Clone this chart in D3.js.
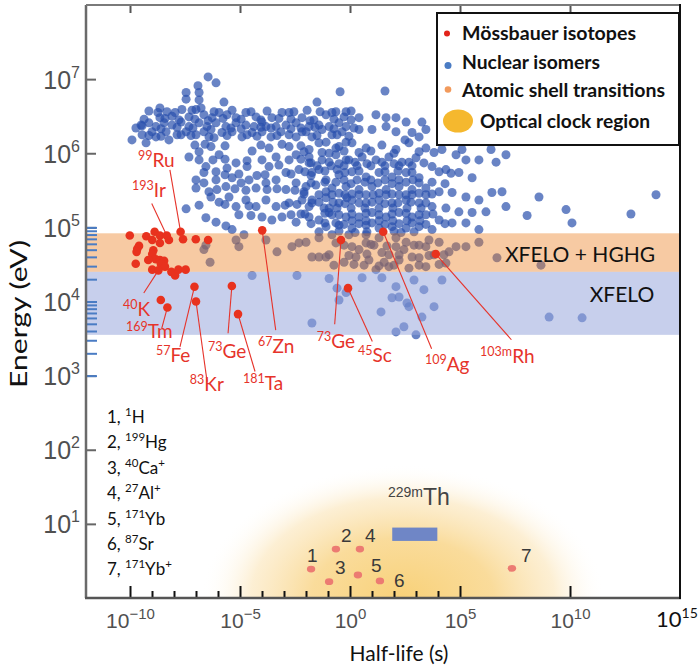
<!DOCTYPE html>
<html>
<head>
<meta charset="utf-8">
<script src="https://cdn.jsdelivr.net/npm/d3@7"></script>
<style>body{margin:0;background:#fff}</style>
</head>
<body>
<div id="chart"></div>
<script>
// values are log10 exponents: [half-life (s), energy (eV)]
var isomers = [
  [-6.45,7.03],[-6.09,6.95],[-6.91,6.91],[-6.86,6.82],[-7.45,6.82],[-7.45,6.73],[-5.73,6.69],[-0.45,6.83],[-1.5,6.69],[1.59,6.84],[-6.86,6.72],
  [-8.64,6.61],[-8.73,6.55],[-8.32,6.56],[-8.64,6.48],[-8.09,6.50],[-7.64,6.59],[-7.32,6.49],[-7.0,6.59],[-6.77,6.61],[-6.64,6.52],[-6.27,6.48],[-5.95,6.55],[-5.59,6.52],[-5.18,6.48],[-4.73,6.55],[-4.27,6.49],[-4.0,6.42],[-3.55,6.48],[-3.09,6.55],[-2.55,6.56],[-2.18,6.48],[-1.64,6.45],[-1.09,6.52],[-0.64,6.56],[-0.27,6.49],[-0.82,6.55],[-0.18,6.56],[0.41,6.48],[1.18,6.52],[1.64,6.48],[2.09,6.48],[2.55,6.42],[3.27,6.42],
  [-9.5,6.38],[-9.14,6.41],[-8.82,6.36],[-8.45,6.41],[-8.09,6.38],[-7.68,6.42],[-7.32,6.36],[-6.86,6.41],[-6.5,6.36],[-6.09,6.41],[-5.64,6.36],[-5.18,6.41],[-4.73,6.38],[-4.36,6.36],[-3.82,6.36],[-3.36,6.36],[-2.91,6.38],[-2.45,6.41],[-1.86,6.36],[-1.41,6.38],[-0.95,6.36],[-0.5,6.41],[-0.18,6.36],[0.41,6.32],[1.0,6.32],[1.64,6.36],[2.09,6.29],[2.82,6.28],[3.45,6.32],[-2.0,6.29],
  [-9.91,6.18],[-9.45,6.25],[-9.45,6.37],[-9.0,6.29],[-9.27,6.14],[-8.82,6.22],[-8.36,6.29],[-8.23,6.18],[-7.86,6.25],[-7.45,6.29],[-7.0,6.25],[-6.64,6.29],[-6.18,6.21],[-5.82,6.28],[-5.36,6.29],[-4.91,6.22],[-4.45,6.28],[-4.0,6.29],[-3.59,6.22],[-3.14,6.29],[-2.77,6.25],[-2.18,6.29],[-1.73,6.22],[-1.27,6.32],[-0.82,6.25],[-0.36,6.29],[2.5,6.18],[3.14,6.22],
  [-7.32,5.95],[-6.86,6.02],[-6.32,6.09],[-5.95,5.98],[-4.45,6.03],[-3.68,6.07],[-3.36,5.95],[-2.77,6.09],[-2.45,5.98],[-1.86,6.05],[-1.41,6.14],[-1.27,6.01],[-0.64,6.07],[-0.18,6.15],[-1.09,6.15],[-0.5,6.09],[0.09,6.14],[0.73,6.07],[1.45,6.11],[2.09,6.05],[2.68,6.14],[3.45,6.07],[4.18,6.05],[4.82,5.98],[5.27,5.91],[5.86,5.91],[6.41,6.05],[7.09,5.98],[5.09,6.05],[6.64,5.88],
  [-1.86,5.95],[-1.27,5.91],[-0.64,5.98],[-0.05,5.91],[0.55,5.95],[1.18,5.91],[1.77,5.95],[2.36,5.88],[3.0,5.94],[3.73,5.82],[4.36,5.78],[4.95,5.74],[5.55,5.67],[-6.86,5.91],[-6.55,5.82],[-6.64,5.74],[-6.09,5.75],[-5.59,5.80],[-5.18,5.87],[-4.68,5.82],[-4.0,5.91],[-3.68,5.82],[-3.23,5.84],[-2.91,5.74],[-2.32,5.78],[-1.86,5.87],[-1.41,5.78],[-0.95,5.88],[-0.59,5.78],[-0.18,5.91],[-1.73,5.74],[-0.5,5.71],[0.09,5.75],[0.73,5.68],[1.32,5.74],[1.91,5.68],[2.55,5.74],[3.14,5.67],[3.73,5.61],
  [-7.0,5.64],[-6.64,5.60],[-7.0,5.53],[-6.41,5.48],[-6.09,5.64],[-5.64,5.55],[-5.36,5.67],[-4.95,5.60],[-4.59,5.64],[-4.27,5.53],[-3.82,5.60],[-3.36,5.64],[-2.91,5.51],[-2.45,5.60],[-2.09,5.48],[-1.55,5.57],[-1.09,5.48],[-0.64,5.61],[-0.18,5.55],[-2.0,5.55],[-0.82,5.53],[0.41,5.51],[1.0,5.55],[1.64,5.51],[2.23,5.55],[2.82,5.51],[3.45,5.53],[4.05,5.48],[4.64,5.47],[5.27,5.41],[5.86,5.37],[6.45,5.47],[6.91,5.48],[7.09,5.28],
  [-6.32,5.41],[-5.95,5.34],[-5.5,5.41],[-5.18,5.28],[-4.73,5.37],[-4.27,5.28],[-3.82,5.37],[-3.36,5.28],[-2.77,5.33],[-2.18,5.37],[-1.86,5.28],[-1.41,5.34],[-0.95,5.26],[-0.5,5.33],[-0.14,5.40],[-1.73,5.37],[-1.09,5.40],[0.09,5.37],[0.73,5.33],[1.32,5.37],[1.91,5.33],[2.55,5.37],[3.14,5.33],[3.73,5.28],[4.36,5.26],[4.95,5.21],[5.55,5.20],[6.18,5.21],
  [-7.45,5.25],[-6.55,5.13],[-6.09,5.07],[-5.64,5.02],[-5.36,4.97],[-4.0,5.14],[-3.55,5.10],[-3.09,5.14],[-2.45,5.07],[-1.86,5.14],[-1.41,5.10],[-0.95,5.20],[-0.64,5.06],[-0.18,5.14],[-0.82,5.17],[0.41,5.14],[1.0,5.20],[1.64,5.14],[2.23,5.20],[2.82,5.14],[3.45,5.17],[4.05,5.10],[4.64,5.06],[5.27,5.06],[5.86,4.97],[-1.09,5.01],[-0.5,5.03],[0.09,4.99],[0.73,5.03],[1.32,4.99],[1.91,5.01],[2.55,4.99],[3.14,5.01],[3.73,4.97],
  [-1.09,5.64],[-0.27,5.64],[0.32,5.64],[0.95,5.64],[1.59,5.64],[2.23,5.64],[2.86,5.64],
  [-1.41,5.44],[-0.82,5.44],[-0.23,5.44],[0.41,5.44],[1.05,5.44],[1.64,5.44],[2.23,5.44],[2.82,5.44],[3.45,5.44],
  [-1.18,5.26],[-0.59,5.26],[0.05,5.26],[0.68,5.26],[1.32,5.26],[1.95,5.26],[2.59,5.26],[3.23,5.26],
  [0.09,5.09],[0.73,5.09],[1.32,5.09],[1.95,5.09],[2.59,5.09],[3.18,5.09],
  [-1.5,5.83],[-0.86,5.83],[-0.27,5.83],[0.32,5.83],[0.95,5.83],[1.59,5.83],[2.23,5.83],[2.82,5.83],
  // ridge, second pass
  [-9.14,6.57],[-7.95,6.55],[-7.18,6.58],[-6.18,6.56],[-5.36,6.58],[-4.5,6.56],[-3.77,6.57],[-2.77,6.55],[-1.95,6.58],[-1.36,6.56],[0.05,6.57],
  [-9.36,6.46],[-8.41,6.47],[-7.77,6.45],[-7.05,6.46],[-6.45,6.44],[-5.77,6.47],[-4.95,6.46],[-4.05,6.45],[-3.23,6.47],[-2.68,6.46],[-1.82,6.44],[-0.73,6.46],[0.05,6.45],
  [-9.73,6.34],[-8.59,6.33],[-7.86,6.35],[-7.14,6.34],[-6.32,6.32],[-5.41,6.34],[-4.95,6.33],[-4.05,6.35],[-3.59,6.34],[-2.68,6.33],[-2.23,6.34],[-1.59,6.35],[-0.73,6.33],[0.18,6.34],
  [-9.14,6.24],[-8.59,6.23],[-7.68,6.25],[-7.23,6.24],[-6.41,6.22],[-5.59,6.24],[-4.68,6.25],[-4.23,6.23],[-3.32,6.24],[-2.45,6.22],[-1.5,6.24],[-0.59,6.25],[-0.05,6.23],
  // dense core, second pass
  [-2.09,6.02],[-0.95,6.00],[-0.27,6.03],[0.41,6.01],[0.95,6.03],[2.0,6.00],[3.14,6.02],[3.82,6.01],
  [-1.77,5.87],[-0.5,5.86],[0.23,5.88],[0.77,5.86],[1.45,5.88],[2.0,5.86],[2.68,5.88],[3.36,5.87],
  [-2.05,5.75],[-1.14,5.76],[-0.23,5.74],[0.41,5.76],[1.59,5.75],[2.18,5.76],[2.82,5.74],[4.05,5.75],[4.59,5.73],
  [-1.77,5.60],[-1.14,5.61],[0.05,5.59],[0.68,5.61],[1.27,5.60],[1.91,5.59],[2.55,5.61],[3.14,5.60],[4.32,5.59],
  [-2.09,5.45],[-0.5,5.46],[0.09,5.45],[0.73,5.44],[1.32,5.46],[1.91,5.45],[2.55,5.44],[3.14,5.46],[3.73,5.45],
  [-1.73,5.33],[-0.77,5.34],[-0.23,5.32],[0.41,5.33],[1.0,5.34],[1.59,5.32],[2.18,5.33],[2.77,5.34],[3.45,5.33],
  [-2.05,5.18],[-1.14,5.19],[-0.5,5.17],[0.09,5.18],[0.73,5.19],[1.32,5.17],[1.91,5.18],[2.55,5.19],[3.14,5.17],[3.77,5.18],
  [-1.77,5.05],[-1.14,5.06],[-0.27,5.04],[0.41,5.05],[1.0,5.06],[1.59,5.04],[2.23,5.05],[2.82,5.06],[3.45,5.04],[4.32,5.05],
  [-1.41,4.94],[-0.5,4.95],[0.23,4.93],[0.77,4.94],[2.0,4.95],[2.32,4.93],[2.91,4.94],
  // left-middle, second pass
  [-7.05,6.11],[-6.59,6.12],[-5.68,6.10],[-4.05,6.11],[-3.09,6.12],[-2.23,6.10],
  [-6.23,5.91],[-5.68,5.92],[-4.68,5.90],[-2.77,5.91],[-2.23,5.92],
  [-5.68,5.71],[-5.05,5.72],[-4.23,5.70],[-3.86,5.71],[-2.68,5.72],[-1.77,5.70],
  [-6.05,5.51],[-5.23,5.52],[-4.73,5.50],[-3.77,5.51],[-3.32,5.52],[-2.5,5.50],
  [-6.86,5.30],[-5.68,5.31],[-4.59,5.29],[-2.95,5.30],[-2.41,5.31],
  [-5.05,5.17],[-4.5,5.16],[-2.68,5.17],[-2.23,5.18],
  // sparse right side
  [8.59,5.41],[9.82,5.24],[10.09,5.06],[8.05,5.16],[12.77,5.18],[13.91,5.44],[8.68,4.49],[6.68,4.59],[9.05,3.79],[10.55,3.78],
  // inside the orange band
  [-5.18,4.83],[-4.82,4.90],[-5.05,4.74],[-3.82,4.83],[-3.32,4.67],[-2.64,4.74],[-2.32,4.79],[-1.41,4.60],[-1.09,4.60],[-6.36,4.53],[-6.64,4.70],[-6.55,4.76],[-1.73,4.60],[-0.64,4.79],[0.09,4.74],[0.73,4.79],[0.27,4.60],[0.86,4.56],[1.45,4.66],[2.09,4.74],[2.55,4.80],[2.23,4.56],[2.82,4.60],[3.45,4.74],[4.05,4.80],[4.5,4.67],[4.82,4.74],[4.36,4.52],[3.45,4.47],[2.68,4.45],[1.77,4.47],[1.18,4.43],[2.09,4.86],[1.32,4.86],[0.73,4.90],[-0.05,4.90],[-0.82,4.90],[-1.41,4.86],[-2.0,4.80],[5.27,4.74],[5.86,4.80],[0.41,4.70],[1.09,4.76],[1.77,4.63],[2.45,4.70],[3.14,4.59],[3.82,4.63],[-0.27,4.53],[0.64,4.49],[1.55,4.53],[3.59,4.83],[2.91,4.76],[2.0,4.49],
  [-0.27,4.76],[0.95,4.77],[1.68,4.75],[3.14,4.76],[-0.95,4.63],[-0.05,4.62],[0.77,4.64],[2.23,4.63],[3.59,4.62],[4.27,4.63],[-0.73,4.49],[0.18,4.50],[1.32,4.48],[3.14,4.49],[4.05,4.50],
  // inside the blue band
  [-4.45,4.35],[-2.41,4.35],[-0.95,4.31],[-0.59,4.18],[-0.18,4.12],[-0.5,4.02],[-1.73,3.71],[1.45,4.32],[2.09,4.20],[2.23,4.06],[2.68,3.93],[3.36,4.16],[3.82,3.93],[4.18,4.29],[1.41,3.86],[2.45,3.66],[2.09,3.59],[3.0,3.55],[3.27,3.79],[0.55,4.32],[2.91,4.29],[2.59,3.98],[1.91,4.05]
];

var mossbauer = [
  [-10.01,4.89],[-9.26,4.88],[-8.88,4.94],[-8.99,4.83],[-8.64,4.89],[-8.23,4.83],[-8.64,4.79],[-7.59,4.84],[-7.01,4.84],[-6.45,4.83],
  [-9.59,4.75],[-9.67,4.71],[-9.70,4.67],[-8.94,4.69],[-8.99,4.64],[-8.83,4.57],[-8.64,4.56],[-8.45,4.55],[-9.17,4.56],[-9.74,4.51],
  [-8.60,4.51],[-8.41,4.47],[-8.99,4.43],[-8.12,4.40],[-7.95,4.35],[-7.80,4.43],[-7.47,4.43],[-8.60,4.02]
];

var isotopeMass = ['99','193','40','169','57','83','73','181','67','73','45','109','103m'];
var isotopeSym  = ['Ru','Ir','K','Tm','Fe','Kr','Ge','Ta','Zn','Ge','Sc','Ag','Rh'];
var isotopeT    = [-7.70,-8.33,-8.71,-8.30,-7.07,-7.0,-5.37,-5.09,-3.99,-0.41,-0.09,1.51,3.90];
var isotopeE    = [4.94,4.89,4.42,3.92,4.20,4.00,4.21,3.83,4.96,4.83,4.18,4.94,4.64];
// label placement (px, relative to the point): text x, text y, line end x, line end y
var isotopeLabelPos = [
  [-42.7,-65,-10.7,-62],[-34.7,-38.7,-15,-32],[-35.3,45.3,-14.6,22.6],[-41.3,30.7,-5.6,20.7],
  [-38.5,75.3,-14.5,60.3],[-6.2,89.5,11.1,80.2],[-23.8,72,-3.8,47.3],[5,75.7,17,57.4],
  [-4.2,122.8,13.5,99.8],[-24.3,108,-6.3,84.3],[10,73.4,24.3,53.4],[41.7,139.4,48.4,117],[44.3,108.7,75.6,85.7]
];

var clockNum  = [1,2,3,4,5,6,7];
var clockMass = ['1','199','40','27','171','87','171'];
var clockSym  = ['H','Hg','Ca','Al','Yb','Sr','Yb'];
var clockIon  = ['','','+','+','','','+'];
var clockT    = [-1.77,-0.64,-0.95,0.45,0.36,1.36,7.36];
var clockE    = [0.39,0.66,0.22,0.66,0.31,0.23,0.40];
var clockNumPos = [[-4,-7],[5,-7],[6,-8],[5,-7],[13,-3],[14,6],[9,-6]];

var thorium = {t0: 1.92, t1: 3.97, e0: 0.77, e1: 0.95};
var clockRegion = {t: 2.4, rt: 9.2, re: 1.8};

// band fills are laid over the dots with partial opacity
var bands = [
  {name: 'XFELO + HGHG', lo: 4.40, hi: 4.92, color: '#eb7a19', alpha: 0.4},
  {name: 'XFELO', lo: 3.55, hi: 4.40, color: '#99a8dc', alpha: 0.55}
];

var xMajor = [-10, -5, 0, 5, 10];
var xMinor = [-9,-8,-7,-6,-4,-3,-2,-1,1,2,3,4];
var yMajor = [1, 2, 3, 4, 5, 6, 7];
var yLadder = [1e3,2e3,3e3,4e3,5e3,6e3,7e3,8e3,9e3,1e4,2e4,3e4,4e4,5e4,6e4,7e4,8e4,9e4,1e5];

var legendItems = ['Mössbauer isotopes', 'Nuclear isomers', 'Atomic shell transitions', 'Optical clock region'];

var CAL = "Lato, 'Open Sans', sans-serif";
var ARIAL = "'Liberation Sans', Arial, sans-serif";
var p = function (e) { return Math.pow(10, e); };

var width = 700, height = 670;
var x = d3.scaleLog().domain([1e-12, 1e15]).range([86, 680]);
var y = d3.scaleLog().domain([1, 1e8]).range([598, 5]);

var svg = d3.select('#chart').append('svg')
  .attr('width', width)
  .attr('height', height)
  .style('font-family', CAL);

var defs = svg.append('defs');
defs.append('clipPath').attr('id', 'plot')
  .append('rect').attr('x', 86).attr('y', 5).attr('width', 594).attr('height', 593);
var grad = defs.append('radialGradient').attr('id', 'glow');
[[0, '#f7c961', 0.85], [0.45, '#f8d07a', 0.75], [0.75, '#fadfa8', 0.5], [1, '#ffffff', 0]].forEach(function (s) {
  grad.append('stop').attr('offset', s[0]).attr('stop-color', s[1]).attr('stop-opacity', s[2]);
});

// superscript helper
function supText(g, px, py, pre, main, post, size, supSize, rise) {
  var t = g.append('text').attr('x', px).attr('y', py).attr('font-size', size);
  if (pre) {
    t.append('tspan').attr('font-size', supSize).attr('dy', -rise).text(pre);
    t.append('tspan').attr('dy', rise).text(main);
  } else {
    t.append('tspan').text(main);
  }
  if (post) t.append('tspan').attr('font-size', supSize).attr('dy', -rise).text(post);
  return t;
}

// optical clock glow
svg.append('ellipse')
  .attr('clip-path', 'url(#plot)')
  .attr('cx', x(p(clockRegion.t)))
  .attr('cy', y(1))
  .attr('rx', x(p(clockRegion.t + clockRegion.rt)) - x(p(clockRegion.t)))
  .attr('ry', y(1) - y(p(clockRegion.re)))
  .attr('fill', 'url(#glow)');

// nuclear isomers
svg.append('g').selectAll('circle')
  .data(isomers)
  .join('circle')
  .attr('cx', d => x(p(d[0])))
  .attr('cy', d => y(p(d[1])))
  .attr('r', 4.5)
  .attr('fill', '#2a50ad')
  .attr('fill-opacity', 0.7);

// XFELO bands
svg.append('g').selectAll('rect')
  .data(bands)
  .join('rect')
  .attr('x', x.range()[0])
  .attr('width', x.range()[1] - x.range()[0])
  .attr('y', d => y(p(d.hi)))
  .attr('height', d => y(p(d.lo)) - y(p(d.hi)))
  .attr('fill', d => d.color)
  .attr('fill-opacity', d => d.alpha);

svg.append('text').attr('x', 580).attr('y', 262).attr('text-anchor', 'middle')
  .attr('font-size', 21).attr('fill', '#111').text(bands[0].name);
svg.append('text').attr('x', 622).attr('y', 302).attr('text-anchor', 'middle')
  .attr('font-size', 21).attr('fill', '#111').text(bands[1].name);

// 229mTh
svg.append('rect')
  .attr('x', x(p(thorium.t0)))
  .attr('width', x(p(thorium.t1)) - x(p(thorium.t0)))
  .attr('y', y(p(thorium.e1)))
  .attr('height', y(p(thorium.e0)) - y(p(thorium.e1)))
  .attr('fill', '#6f86c6');
supText(svg.append('g').attr('fill', '#444').style('font-family', ARIAL),
  388, 505, '229m', 'Th', '', 23, 14, 8);

// optical clock species
var cg = svg.append('g');
cg.selectAll('ellipse')
  .data(clockT)
  .join('ellipse')
  .attr('cx', (d, i) => x(p(d)))
  .attr('cy', (d, i) => y(p(clockE[i])))
  .attr('rx', 4.2).attr('ry', 3.4)
  .attr('fill', '#ec7b72');
cg.selectAll('text')
  .data(clockNum)
  .join('text')
  .attr('x', (d, i) => x(p(clockT[i])) + clockNumPos[i][0])
  .attr('y', (d, i) => y(p(clockE[i])) + clockNumPos[i][1])
  .attr('font-family', ARIAL)
  .attr('font-size', 19)
  .attr('fill', '#3a3a3a')
  .text(d => d);

// Mössbauer isotopes
var red = '#e6332a';
var mg = svg.append('g');
mg.selectAll('line')
  .data(isotopeT)
  .join('line')
  .attr('x1', (d, i) => x(p(d)))
  .attr('y1', (d, i) => y(p(isotopeE[i])))
  .attr('x2', (d, i) => x(p(d)) + isotopeLabelPos[i][2])
  .attr('y2', (d, i) => y(p(isotopeE[i])) + isotopeLabelPos[i][3])
  .attr('stroke', red)
  .attr('stroke-width', 1.1);
mg.selectAll('circle.plain')
  .data(mossbauer)
  .join('circle')
  .attr('class', 'plain')
  .attr('cx', d => x(p(d[0])))
  .attr('cy', d => y(p(d[1])))
  .attr('r', 4.3)
  .attr('fill', '#e8321e');
mg.selectAll('circle.lab')
  .data(isotopeT)
  .join('circle')
  .attr('class', 'lab')
  .attr('cx', d => x(p(d)))
  .attr('cy', (d, i) => y(p(isotopeE[i])))
  .attr('r', 4.3)
  .attr('fill', '#e8321e');
var lg = mg.append('g').attr('fill', red);
isotopeT.forEach(function (t, i) {
  supText(lg, x(p(t)) + isotopeLabelPos[i][0], y(p(isotopeE[i])) + isotopeLabelPos[i][1],
    isotopeMass[i], isotopeSym[i], '', 19, 12.5, 7);
});

// list of clock species on the left
var listG = svg.append('g').attr('fill', '#111');
clockNum.forEach(function (n, i) {
  var t = listG.append('text').attr('x', 107).attr('y', 423 + i * 25.4).attr('font-size', 17);
  t.append('tspan').text(n + ', ');
  t.append('tspan').attr('font-size', 11.5).attr('dy', -7).text(clockMass[i]);
  t.append('tspan').attr('dy', 7).text(clockSym[i]);
  if (clockIon[i]) t.append('tspan').attr('font-size', 11.5).attr('dy', -7).text(clockIon[i]);
});

// axes: ticks only, frame drawn separately
function styleTicks(g, color, w) {
  g.select('.domain').remove();
  g.selectAll('.tick text').remove();
  g.selectAll('.tick line').attr('stroke', color).attr('stroke-width', w);
}

svg.append('g').attr('transform', 'translate(0,598)')
  .call(d3.axisBottom(x).tickValues(xMinor.map(p)).tickSize(-7))
  .call(styleTicks, '#111', 2);
var gx = svg.append('g').attr('transform', 'translate(0,598)')
  .call(d3.axisBottom(x).tickValues(xMajor.map(p)).tickSize(-12))
  .call(styleTicks, '#111', 2);
svg.append('g').attr('transform', 'translate(0,5)')
  .call(d3.axisTop(x).tickValues(xMajor.map(p)).tickSize(-8))
  .call(styleTicks, '#555', 2);
var gy = svg.append('g').attr('transform', 'translate(86,0)')
  .call(d3.axisLeft(y).tickValues(yMajor.map(p)).tickSize(-10))
  .call(styleTicks, '#666', 2);
svg.append('g').attr('transform', 'translate(86,0)')
  .call(d3.axisLeft(y).tickValues(yLadder).tickSize(-11))
  .call(styleTicks, '#4a7cc4', 2);

gx.selectAll('.tick').each(function (d) {
  var e = Math.round(Math.log10(d));
  var t = d3.select(this).append('text')
    .attr('y', 30).attr('text-anchor', 'middle')
    .attr('font-family', ARIAL).attr('font-size', 21).attr('fill', '#505050');
  t.append('tspan').text('10');
  t.append('tspan').attr('font-size', 15).attr('dy', -9).text(String(e).replace('-', '\u2212'));
});
gy.selectAll('.tick').each(function (d) {
  var e = Math.round(Math.log10(d));
  var t = d3.select(this).append('text')
    .attr('x', -6).attr('y', 9).attr('text-anchor', 'end')
    .attr('font-family', ARIAL).attr('font-size', 25).attr('fill', '#505050');
  t.append('tspan').text('10');
  t.append('tspan').attr('font-size', 16).attr('dy', -11).text(e);
});
// 10^15 at the right end
var t15 = svg.append('text').attr('x', x(1e15) - 24).attr('y', 627).attr('font-size', 22).attr('fill', '#111');
t15.append('tspan').text('10');
t15.append('tspan').attr('font-size', 14).attr('dy', -9).text('15');

// frame
svg.append('line').attr('x1', 86).attr('x2', 86).attr('y1', 5).attr('y2', 598).attr('stroke', '#6a6a6a').attr('stroke-width', 2.5);
svg.append('line').attr('x1', 86).attr('x2', 680).attr('y1', 5).attr('y2', 5).attr('stroke', '#7a7a7a').attr('stroke-width', 2);
svg.append('line').attr('x1', 85).attr('x2', 681).attr('y1', 598).attr('y2', 598).attr('stroke', '#555').attr('stroke-width', 2.5);
svg.append('line').attr('x1', 680).attr('x2', 680).attr('y1', 4).attr('y2', 599).attr('stroke', '#111').attr('stroke-width', 2);

// axis titles
svg.append('text').attr('transform', 'translate(27,314) rotate(-90)')
  .attr('text-anchor', 'middle').attr('font-size', 24).attr('fill', '#111')
  .attr('textLength', 148).attr('lengthAdjust', 'spacingAndGlyphs')
  .text('Energy (eV)');
svg.append('text').attr('x', 399).attr('y', 661)
  .attr('text-anchor', 'middle').attr('font-size', 21).attr('fill', '#111')
  .text('Half-life (s)');

// legend
var leg = svg.append('g');
leg.append('rect').attr('x', 437).attr('y', 13).attr('width', 242).attr('height', 132)
  .attr('fill', '#fff').attr('stroke', '#111').attr('stroke-width', 2);
leg.append('circle').attr('cx', 447).attr('cy', 33.5).attr('r', 3).attr('fill', '#e2231a');
leg.append('circle').attr('cx', 448).attr('cy', 65.5).attr('r', 3.5).attr('fill', '#4a7cc4');
leg.append('circle').attr('cx', 448).attr('cy', 89.5).attr('r', 3.3).attr('fill', '#f29a5c');
leg.append('ellipse').attr('cx', 458).attr('cy', 121).attr('rx', 15).attr('ry', 11.5).attr('fill', '#f5b82e');
var legX = [462, 462, 462, 480];
var legY = [40, 69, 97, 128];
var legW = [174, 138, 203, 170];
leg.selectAll('text.item')
  .data(legendItems)
  .join('text')
  .attr('class', 'item')
  .attr('x', (d, i) => legX[i])
  .attr('y', (d, i) => legY[i])
  .attr('font-size', 18)
  .attr('font-weight', 'bold')
  .attr('fill', '#111')
  .attr('textLength', (d, i) => legW[i])
  .attr('lengthAdjust', 'spacingAndGlyphs')
  .text(d => d);
</script>
</body>
</html>
